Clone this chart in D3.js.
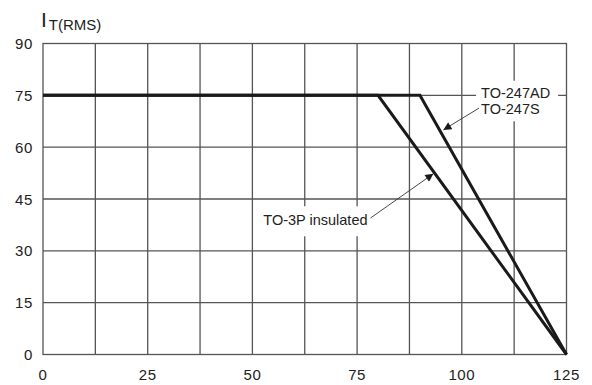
<!DOCTYPE html>
<html lang="en">
<head>
<meta charset="UTF-8">
<title>IT(RMS) derating</title>
<script src="https://cdn.jsdelivr.net/npm/d3@7"></script>
<style>
  body { margin: 0; background: #fff; }
  text { font-family: "Liberation Sans", Arial, sans-serif; fill: #222; }
</style>
</head>
<body>
<svg id="chart" width="592" height="385"></svg>
<script>
// data
const xTicks = [0, 25, 50, 75, 100, 125];
const yTicks = [0, 15, 30, 45, 60, 75, 90];
const xGrid = [12.5, 25, 37.5, 50, 62.5, 75, 87.5, 100, 112.5];
const to3p = [[0, 75], [80, 75], [125, 0]];
const to247 = [[0, 75], [90, 75], [125, 0]];

const svg = d3.select("#chart");
const x = d3.scaleLinear().domain([0, 125]).range([43, 566.5]);
const y = d3.scaleLinear().domain([0, 90]).range([354.5, 43.5]);

// grid
svg.append("g").selectAll("line").data(xGrid).enter().append("line")
  .attr("x1", d => x(d)).attr("x2", d => x(d))
  .attr("y1", y(0)).attr("y2", y(90))
  .attr("stroke", "#555").attr("stroke-width", 1.3);
svg.append("g").selectAll("line").data(yTicks.slice(1, -1)).enter().append("line")
  .attr("x1", x(0)).attr("x2", x(125))
  .attr("y1", d => y(d)).attr("y2", d => y(d))
  .attr("stroke", "#555").attr("stroke-width", 1.3);
svg.append("rect")
  .attr("x", x(0)).attr("y", y(90))
  .attr("width", x(125) - x(0)).attr("height", y(0) - y(90))
  .attr("fill", "none").attr("stroke", "#555").attr("stroke-width", 1.3);

// tick labels
svg.append("g").selectAll("text").data(xTicks).enter().append("text")
  .attr("x", d => x(d)).attr("y", 380)
  .attr("text-anchor", "middle").attr("font-size", 15)
  .attr("letter-spacing", 0.6)
  .text(d => d);
svg.append("g").selectAll("text").data(yTicks).enter().append("text")
  .attr("x", 33).attr("y", d => y(d) + 5.5)
  .attr("text-anchor", "end").attr("font-size", 15)
  .attr("letter-spacing", 0.6)
  .text(d => d);

// title
const title = svg.append("text").attr("x", 41).attr("y", 26.5).attr("font-size", 21);
title.append("tspan").text("I");
title.append("tspan").attr("font-size", 15).attr("dx", 2).attr("dy", 3.5).text("T(RMS)");

// curves
const line = d3.line().x(d => x(d[0])).y(d => y(d[1]));
[to3p, to247].forEach(c => {
  svg.append("path").attr("d", line(c))
    .attr("fill", "none").attr("stroke", "#1a1a1a")
    .attr("stroke-width", 3).attr("stroke-linejoin", "miter");
});

// annotations
svg.append("defs").append("marker")
  .attr("id", "arr").attr("viewBox", "0 0 10 10")
  .attr("refX", 10).attr("refY", 5)
  .attr("markerWidth", 10).attr("markerHeight", 8)
  .attr("markerUnits", "userSpaceOnUse")
  .attr("orient", "auto")
  .append("path").attr("d", "M0,0L10,5L0,10Z").attr("fill", "#1a1a1a");

function label(lines, lx, ly, pad) {
  const g = svg.append("g");
  const bg = g.append("rect").attr("fill", "#fff");
  const t = g.append("text").attr("font-size", 14.5);
  lines.forEach((s, i) => {
    t.append("tspan").attr("x", x(lx)).attr("y", y(ly) + i * 16.5).text(s);
  });
  const b = t.node().getBBox();
  bg.attr("x", b.x - pad[0]).attr("y", b.y - pad[1])
    .attr("width", b.width + pad[0] + pad[2]).attr("height", b.height + pad[1] + pad[3]);
}
label(["TO-247AD", "TO-247S"], 104.6, 74.3, [5, 4, 8, 4]);
label(["TO-3P insulated"], 52.6, 37.4, [5, 6, 5, 8]);

function arrow(a, b) {
  svg.append("line")
    .attr("x1", x(a[0])).attr("y1", y(a[1]))
    .attr("x2", x(b[0])).attr("y2", y(b[1]))
    .attr("stroke", "#333").attr("stroke-width", 0.9)
    .attr("marker-end", "url(#arr)");
}
arrow([104.1, 71.3], [95.6, 65]);
arrow([78.2, 39.5], [93.2, 52.3]);
</script>
</body>
</html>
